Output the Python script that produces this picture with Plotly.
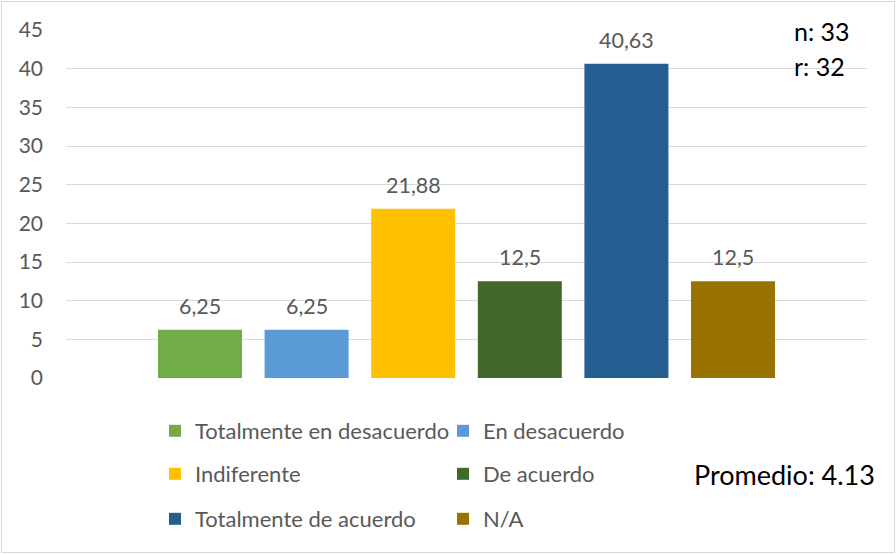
import plotly.graph_objects as go

# Survey responses (percent of respondents)
categories = ["Totalmente en desacuerdo", "En desacuerdo", "Indiferente",
              "De acuerdo", "Totalmente de acuerdo", "N/A"]
percentages = [6.25, 6.25, 21.88, 12.5, 40.63, 12.5]
colors = ["#70AD47", "#5B9BD5", "#FFC000", "#43682B", "#255E91", "#997300"]
y_ticks = [0, 5, 10, 15, 20, 25, 30, 35, 40, 45]
n_total = 33
r_total = 32
promedio = 4.13

FONT = "Lato"
GRAY = "#595959"

W, H = 896, 554
ML, MR, MT, MB = 66, 29, 30, 176
PW, PH = W - ML - MR, H - MT - MB


def px_x(px):
    return (px - ML) / PW


def px_y(py):
    return (H - MB - py) / PH


# each legend row holds two entries
legend_rows = ["legend", "legend", "legend2", "legend2", "legend3", "legend3"]

fig = go.Figure()
for cat, val, col, leg in zip(categories, percentages, colors, legend_rows):
    fig.add_trace(go.Bar(
        x=[cat], y=[val], name=cat, marker=dict(color=col, line=dict(width=0)),
        legend=leg, hoverinfo="skip",
    ))

# value labels above the bars
for cat, val in zip(categories, percentages):
    fig.add_annotation(
        x=cat, y=val, xref="x", yref="y", text=f"{val:g}".replace(".", ","),
        showarrow=False, yanchor="bottom", yshift=9,
        font=dict(family=FONT, size=21.5, color=GRAY),
    )

fig.add_annotation(x=px_x(792), y=px_y(31), xref="paper", yref="paper",
                   text=f"n: {n_total}", showarrow=False, xanchor="left", yanchor="middle",
                   font=dict(family=FONT, size=25, color="#000000"))
fig.add_annotation(x=px_x(792), y=px_y(66), xref="paper", yref="paper",
                   text=f"r: {r_total}", showarrow=False, xanchor="left", yanchor="middle",
                   font=dict(family=FONT, size=25, color="#000000"))
fig.add_annotation(x=px_x(877), y=px_y(474), xref="paper", yref="paper",
                   text=f"Promedio: {promedio}", showarrow=False, xanchor="right", yanchor="middle",
                   font=dict(family=FONT, size=27, color="#000000"))

# outer chart border
fig.add_shape(type="rect", xref="paper", yref="paper",
              x0=px_x(1.5), x1=px_x(894.5), y0=px_y(552.5), y1=px_y(1.5),
              line=dict(color="#D9D9D9", width=1), fillcolor="rgba(0,0,0,0)", layer="below")

legend_common = dict(
    orientation="h", xanchor="left", yanchor="middle", x=px_x(155),
    font=dict(family=FONT, size=22, color=GRAY), bgcolor="rgba(0,0,0,0)",
    entrywidth=243, entrywidthmode="pixels", itemclick=False, itemdoubleclick=False,
    tracegroupgap=0,
)

half_span = PW / 106.6 / 2

fig.update_layout(
    width=W, height=H,
    margin=dict(l=ML, r=MR, t=MT, b=MB, autoexpand=False),
    paper_bgcolor="#FFFFFF", plot_bgcolor="#FFFFFF",
    barmode="overlay", bargap=1 - 84 / 106.6,
    showlegend=True,
    legend=dict(legend_common, y=px_y(431)),
    legend2=dict(legend_common, y=px_y(474)),
    legend3=dict(legend_common, y=px_y(519)),
    xaxis=dict(type="category", categoryorder="array", categoryarray=categories,
               range=[2.5 - half_span, 2.5 + half_span],
               showticklabels=False, showgrid=False, zeroline=False, showline=False, ticks=""),
    yaxis=dict(range=[0, 45], tickvals=y_ticks, showgrid=True, gridcolor="#D9D9D9", gridwidth=1.3,
               zeroline=False, showline=False, ticks="", ticklabelstandoff=22,
               tickfont=dict(family=FONT, size=21, color=GRAY)),
    font=dict(family=FONT),
)

fig.write_html("out.html")
